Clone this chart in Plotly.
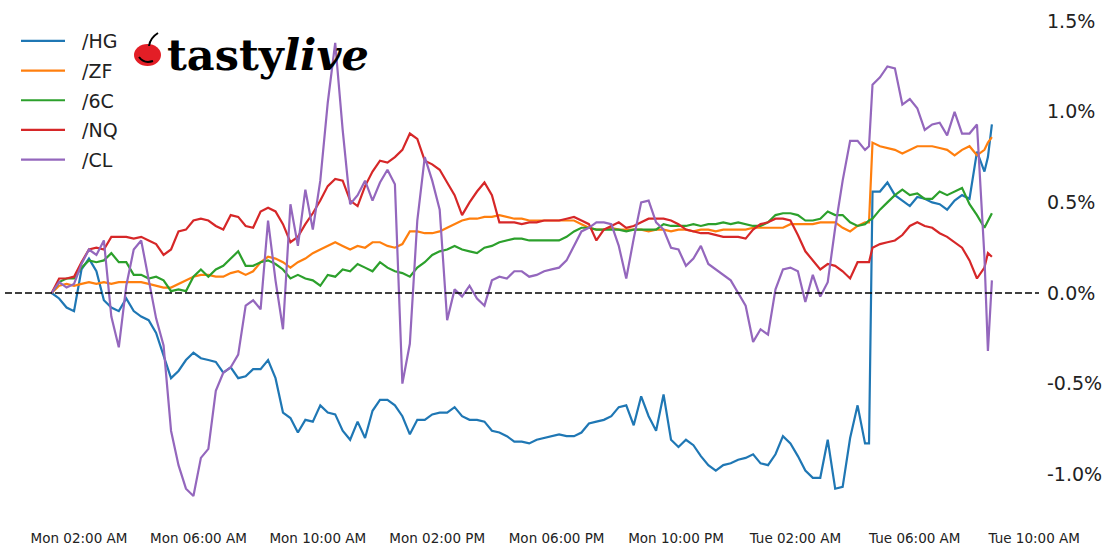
import pandas as pd
import plotly.graph_objects as go

# ---------------- data ----------------
# 15-minute samples starting Mon 01:05, plus two extra samples (Tue 04:28, Tue 08:27)
grid = list(pd.date_range("2024-06-03 01:05", periods=127, freq="15min"))
grid.insert(110, pd.Timestamp("2024-06-04 04:28"))
grid.insert(127, pd.Timestamp("2024-06-04 08:27"))
times = grid

series_names = ["/HG", "/ZF", "/6C", "/NQ", "/CL"]
series_colors = ["#1f77b4", "#ff7f0e", "#2ca02c", "#d62728", "#9467bd"]

hg = [0.0, -0.03, -0.08, -0.10, 0.13, 0.19, 0.12, -0.04, -0.08, -0.10,
      -0.03, -0.10, -0.13, -0.15, -0.22, -0.34, -0.47, -0.43, -0.37, -0.33,
      -0.36, -0.37, -0.38, -0.44, -0.41, -0.47, -0.46, -0.42, -0.42, -0.37,
      -0.47, -0.66, -0.69, -0.77, -0.70, -0.71, -0.62, -0.66, -0.67, -0.76,
      -0.81, -0.71, -0.80, -0.65, -0.59, -0.59, -0.62, -0.68, -0.78, -0.70,
      -0.70, -0.67, -0.66, -0.66, -0.63, -0.68, -0.70, -0.70, -0.71, -0.76,
      -0.77, -0.79, -0.82, -0.82, -0.83, -0.81, -0.80, -0.79, -0.78, -0.79,
      -0.79, -0.77, -0.72, -0.71, -0.70, -0.68, -0.63, -0.62, -0.73, -0.57,
      -0.68, -0.76, -0.56, -0.81, -0.85, -0.81, -0.84, -0.90, -0.95, -0.98,
      -0.95, -0.94, -0.92, -0.91, -0.89, -0.94, -0.95, -0.89, -0.79, -0.83,
      -0.90, -0.98, -1.02, -1.02, -0.81, -1.08, -1.07, -0.80, -0.62, -0.83,
      -0.83,
      0.56, 0.56, 0.61, 0.54, 0.51, 0.48, 0.53, 0.52, 0.50, 0.49,
      0.46, 0.51, 0.54, 0.52, 0.78, 0.67, 0.75, 0.93]

zf = [0.0, 0.04, 0.05, 0.04, 0.05, 0.06, 0.05, 0.06, 0.05, 0.06,
      0.06, 0.06, 0.06, 0.05, 0.04, 0.03, 0.03, 0.05, 0.07, 0.09,
      0.10, 0.10, 0.09, 0.09, 0.11, 0.12, 0.10, 0.12, 0.17, 0.20,
      0.19, 0.17, 0.14, 0.17, 0.19, 0.22, 0.24, 0.26, 0.28, 0.26,
      0.24, 0.26, 0.25, 0.28, 0.28, 0.26, 0.25, 0.27, 0.34, 0.34,
      0.33, 0.33, 0.34, 0.36, 0.38, 0.40, 0.41, 0.41, 0.42, 0.42,
      0.43, 0.42, 0.41, 0.41, 0.40, 0.40, 0.40, 0.40, 0.40, 0.40,
      0.40, 0.38, 0.36, 0.35, 0.35, 0.36, 0.35, 0.35, 0.35, 0.35,
      0.34, 0.35, 0.35, 0.34, 0.35, 0.35, 0.34, 0.35, 0.35, 0.34,
      0.35, 0.35, 0.35, 0.35, 0.36, 0.36, 0.36, 0.36, 0.36, 0.38,
      0.38, 0.38, 0.38, 0.39, 0.39, 0.39, 0.36, 0.34, 0.37, 0.39,
      0.39,
      0.83, 0.81, 0.80, 0.79, 0.77, 0.79, 0.81, 0.81, 0.81, 0.80,
      0.79, 0.76, 0.79, 0.81, 0.76, 0.79, 0.83, 0.86]

c6 = [0.0, 0.06, 0.08, 0.08, 0.14, 0.18, 0.17, 0.18, 0.22, 0.17,
      0.17, 0.10, 0.10, 0.08, 0.09, 0.07, 0.01, 0.02, 0.01, 0.09,
      0.13, 0.09, 0.13, 0.15, 0.19, 0.23, 0.15, 0.15, 0.17, 0.18,
      0.16, 0.13, 0.08, 0.10, 0.08, 0.07, 0.04, 0.10, 0.09, 0.13,
      0.12, 0.16, 0.14, 0.12, 0.17, 0.14, 0.12, 0.11, 0.09, 0.14,
      0.17, 0.21, 0.23, 0.24, 0.26, 0.24, 0.23, 0.22, 0.25, 0.26,
      0.28, 0.29, 0.30, 0.30, 0.29, 0.29, 0.29, 0.29, 0.29, 0.31,
      0.34, 0.36, 0.36, 0.35, 0.35, 0.35, 0.35, 0.34, 0.35, 0.35,
      0.35, 0.35, 0.38, 0.37, 0.37, 0.37, 0.38, 0.37, 0.38, 0.38,
      0.39, 0.38, 0.39, 0.38, 0.37, 0.37, 0.39, 0.43, 0.44, 0.44,
      0.43, 0.40, 0.40, 0.41, 0.45, 0.43, 0.43, 0.39, 0.37, 0.38,
      0.40,
      0.41, 0.46, 0.50, 0.54, 0.57, 0.54, 0.55, 0.52, 0.52, 0.56,
      0.54, 0.56, 0.58, 0.49, 0.43, 0.36, 0.40, 0.44]

nq = [0.0, 0.08, 0.08, 0.09, 0.17, 0.24, 0.25, 0.24, 0.31, 0.31,
      0.31, 0.30, 0.31, 0.29, 0.27, 0.21, 0.24, 0.34, 0.35, 0.40,
      0.41, 0.40, 0.37, 0.35, 0.43, 0.42, 0.37, 0.36, 0.45, 0.47,
      0.45, 0.38, 0.28, 0.31, 0.38, 0.44, 0.51, 0.59, 0.63, 0.62,
      0.51, 0.48, 0.59, 0.67, 0.73, 0.72, 0.75, 0.79, 0.88, 0.85,
      0.73, 0.71, 0.68, 0.61, 0.54, 0.43, 0.50, 0.56, 0.61, 0.54,
      0.39, 0.39, 0.39, 0.38, 0.39, 0.39, 0.40, 0.40, 0.40, 0.41,
      0.42, 0.40, 0.38, 0.29, 0.35, 0.37, 0.39, 0.36, 0.37, 0.39,
      0.41, 0.41, 0.41, 0.40, 0.38, 0.35, 0.34, 0.33, 0.33, 0.32,
      0.31, 0.31, 0.31, 0.30, 0.35, 0.38, 0.39, 0.41, 0.41, 0.40,
      0.32, 0.23, 0.18, 0.13, 0.16, 0.15, 0.12, 0.08, 0.17, 0.17,
      0.17,
      0.25, 0.27, 0.28, 0.29, 0.32, 0.37, 0.39, 0.37, 0.36, 0.33,
      0.31, 0.28, 0.25, 0.18, 0.08, 0.14, 0.22, 0.20]

cl = [0.0, 0.06, 0.03, 0.05, 0.16, 0.24, 0.21, 0.29, -0.13, -0.30,
      0.04, 0.24, 0.29, 0.07, -0.14, -0.29, -0.76, -0.95, -1.08, -1.12,
      -0.91, -0.86, -0.54, -0.44, -0.41, -0.34, -0.07, -0.04, -0.09, 0.40,
      0.07, -0.20, 0.49, 0.26, 0.57, 0.35, 0.62, 1.05, 1.38, 0.90,
      0.49, 0.54, 0.62, 0.51, 0.61, 0.68, 0.60, -0.50, -0.28, 0.40,
      0.75, 0.62, 0.46, -0.15, 0.02, -0.02, 0.04, -0.03, -0.07, 0.07,
      0.09, 0.08, 0.12, 0.12, 0.09, 0.10, 0.12, 0.13, 0.14, 0.18,
      0.26, 0.34, 0.36, 0.39, 0.39, 0.38, 0.26, 0.08, 0.30, 0.50,
      0.51, 0.39, 0.35, 0.25, 0.24, 0.15, 0.19, 0.26, 0.16, 0.13,
      0.10, 0.07, 0.00, -0.07, -0.27, -0.20, -0.23, 0.02, 0.13, 0.14,
      0.12, -0.05, 0.10, -0.02, 0.06, 0.36, 0.62, 0.84, 0.84, 0.79,
      0.81,
      1.15, 1.19, 1.25, 1.24, 1.04, 1.07, 1.02, 0.90, 0.93, 0.94,
      0.87, 1.00, 0.88, 0.88, 0.93, 0.20, -0.32, 0.07]

series_values = [hg, zf, c6, nq, cl]

x_tick_times = ["2024-06-03 02:00", "2024-06-03 06:00", "2024-06-03 10:00",
                "2024-06-03 14:00", "2024-06-03 18:00", "2024-06-03 22:00",
                "2024-06-04 02:00", "2024-06-04 06:00", "2024-06-04 10:00"]
x_tick_labels = ["Mon 02:00 AM", "Mon 06:00 AM", "Mon 10:00 AM", "Mon 02:00 PM",
                 "Mon 06:00 PM", "Mon 10:00 PM", "Tue 02:00 AM", "Tue 06:00 AM",
                 "Tue 10:00 AM"]
y_tick_vals = [-1.0, -0.5, 0.0, 0.5, 1.0, 1.5]
y_tick_labels = ["-1.0%", "-0.5%", "0.0%", "0.5%", "1.0%", "1.5%"]

# ---------------- figure ----------------
W, H = 1113, 558
ML, MR, MT, MB = 5, 74, 10, 30
PW, PH = W - ML - MR, H - MT - MB


def px_x(px):
    return (px - ML) / PW


def px_y(py):
    return (H - MB - py) / PH


fig = go.Figure()
for name, color, vals in zip(series_names, series_colors, series_values):
    fig.add_trace(go.Scatter(
        x=times, y=vals, mode="lines", name="\u00a0\u00a0" + name, legendgroup=name,
        line=dict(color=color, width=2.2),
    ))

fig.add_hline(y=0, line=dict(color="black", width=1.5, dash="7px,3px"))

# logo: cherry + wordmark
fig.add_shape(type="circle", xref="paper", yref="paper",
              x0=px_x(134), x1=px_x(161), y0=px_y(66), y1=px_y(44),
              fillcolor="#e31e26", line=dict(width=0))
fig.add_shape(type="path", xref="paper", yref="paper",
              path=f"M {px_x(149)},{px_y(46)} Q {px_x(150)},{px_y(38)} {px_x(158)},{px_y(33)}",
              line=dict(color="black", width=2))
fig.add_shape(type="path", xref="paper", yref="paper",
              path=f"M {px_x(139)},{px_y(57)} Q {px_x(144)},{px_y(64)} {px_x(153)},{px_y(61)}",
              line=dict(color="black", width=2))
fig.add_annotation(text="<b>tasty<i>live</i></b>", xref="paper", yref="paper",
                   x=px_x(165), y=px_y(55), xanchor="left", yanchor="middle",
                   showarrow=False,
                   font=dict(family="DejaVu Serif", size=43, color="black"))

x_range = ["2024-06-02 23:31:15", "2024-06-04 10:09:40"]
y_top = (293 - MT) / 181.2
y_bot = (293 - (H - MB)) / 181.2

fig.update_layout(
    width=W, height=H,
    margin=dict(l=ML, r=MR, t=MT, b=MB),
    paper_bgcolor="white", plot_bgcolor="white",
    font=dict(family="DejaVu Sans", color="#222"),
    showlegend=True,
    legend=dict(x=px_x(16), y=px_y(22), xanchor="left", yanchor="top",
                bgcolor="rgba(0,0,0,0)", font=dict(size=19, color="#222"),
                itemwidth=44, tracegroupgap=2),
    xaxis=dict(type="date", range=x_range, tickvals=x_tick_times,
               ticktext=x_tick_labels, showgrid=False, zeroline=False,
               showline=False, ticks="", tickfont=dict(size=13.5, color="#222")),
    yaxis=dict(side="right", range=[y_bot, y_top], tickvals=y_tick_vals,
               ticktext=y_tick_labels, showgrid=False, zeroline=False,
               showline=False, ticks="", ticklabelstandoff=7,
               tickfont=dict(size=19, color="#222")),
)

fig.write_html("out.html", post_script="document.body.style.margin='0';",
               config={"displayModeBar": False})
